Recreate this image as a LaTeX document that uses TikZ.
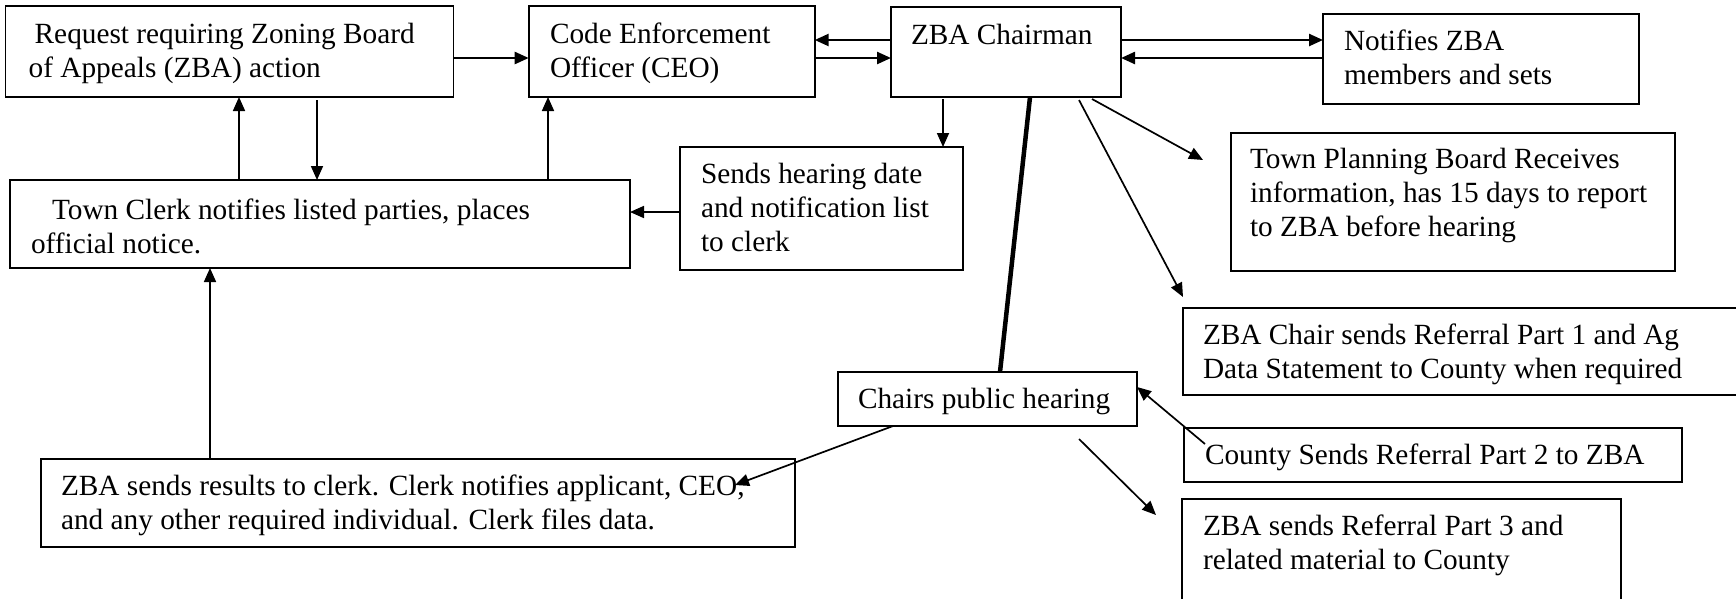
\documentclass[tikz,border=0pt]{standalone}
\usepackage{fontspec}
\setmainfont{Liberation Serif}
\usetikzlibrary{arrows.meta,calc}
\newcommand{\mlines}[1]{\begin{tabular}[t]{@{}l@{}}#1\end{tabular}}
\begin{document}
\begin{tikzpicture}[x=1pt,y=-1pt,
  box/.style={draw,line width=1.7pt,rectangle,anchor=north west,inner sep=0pt,outer sep=0pt},
  txt/.style={anchor=base west,inner sep=0pt,outer sep=0pt,font=\fontsize{29.3}{34}\selectfont},
  arr/.style={line width=1.7pt,-{Triangle[length=14pt,width=12pt]}},
  harr/.style={arr,line width=2.4pt},
  heavy/.style={line width=4.5pt}]
\useasboundingbox (0,0) rectangle (1736,598);
\clip (0,0) rectangle (1736,598);

% boxes
\node[box,minimum width=448pt,minimum height=91pt] (req) at (5.5,6) {};
\node[box,minimum width=286pt,minimum height=91pt] (ceo) at (528.7,6) {};
\node[box,minimum width=230pt,minimum height=90pt] (zba) at (891,7) {};
\node[box,minimum width=316pt,minimum height=90pt] (notif) at (1323,14) {};
\node[box,minimum width=283pt,minimum height=123pt] (sends) at (680,147) {};
\node[box,minimum width=620pt,minimum height=88pt] (tc) at (10,180) {};
\node[box,minimum width=444pt,minimum height=138pt] (tp) at (1231,133) {};
\node[box,minimum width=556pt,minimum height=87pt] (refone) at (1183,308) {};
\node[box,minimum width=299pt,minimum height=54pt] (chairs) at (838,372) {};
\node[box,minimum width=498pt,minimum height=54pt] (county) at (1184,428) {};
\node[box,minimum width=439pt,minimum height=102pt] (refthree) at (1182,499) {};
\node[box,minimum width=754pt,minimum height=88pt] (res) at (41,459) {};

% texts
\node[txt] (treq) at (28.7,43) {\mlines{\hspace*{6pt}Request requiring Zoning Board\\of Appeals (ZBA) action}};
\node[txt] (tceo) at (550,43) {\mlines{Code Enforcement\\Officer (CEO)}};
\node[txt] (tzba) at (911,44) {ZBA Chairman};
\node[txt] (tnot) at (1344,50) {\mlines{Notifies ZBA\\members and sets}};
\node[txt] (tsen) at (701,183) {\mlines{Sends hearing date\\and notification list\\to clerk}};
\node[txt] (ttc) at (31,219) {\mlines{\hspace*{21pt}Town Clerk notifies listed parties, places\\official notice.}};
\node[txt] (ttp) at (1250,168) {\mlines{Town Planning Board Receives\\information, has 15 days to report\\to ZBA before hearing}};
\node[txt] (trone) at (1203,344) {\mlines{ZBA Chair sends Referral Part 1 and Ag\\Data Statement to County when required}};
\node[txt] (tch) at (858,408) {Chairs public hearing};
\node[txt] (tco) at (1205,464) {County Sends Referral Part 2 to ZBA};
\node[txt] (trthree) at (1203,535) {\mlines{ZBA sends Referral Part 3 and\\related material to County}};
\node[txt] (tres) at (61,495) {\mlines{ZBA sends results to clerk. Clerk notifies applicant, CEO,\\and any other required individual. Clerk files data.}};

% free ends
\coordinate (tpend) at (1203,160);
\coordinate (roneend) at (1183,297);
\coordinate (rthreeend) at (1156,515);

% connectors
\draw[harr] ([yshift=-52pt]req.north east) -- ([yshift=-52pt]ceo.north west);
\draw[harr] ([yshift=-33pt]zba.north west) -- ([yshift=-34pt]ceo.north east);
\draw[harr] ([yshift=-52pt]ceo.north east) -- ([yshift=-51pt]zba.north west);
\draw[harr] ([yshift=-33pt]zba.north east) -- ([yshift=-26pt]notif.north west);
\draw[harr] ([yshift=-44pt]notif.north west) -- ([yshift=-51pt]zba.north east);
\draw[arr] ([xshift=229pt]tc.north west) -- ([xshift=233.5pt]req.south west);
\draw[arr] ([xshift=311.5pt,yshift=-3pt]req.south west) -- ([xshift=307pt]tc.north west);
\draw[arr] ([xshift=538pt]tc.north west) -- ([xshift=19.3pt]ceo.south west);
\draw[arr] ([xshift=52pt,yshift=-2pt]zba.south west) -- ([xshift=263pt]sends.north west);
\draw[arr] ([yshift=-65pt]sends.north west) -- ([yshift=-32pt]tc.north east);
\draw[arr] ([xshift=-29pt,yshift=-2pt]zba.south east) -- (tpend);
\draw[arr] ([xshift=-42pt,yshift=-3pt]zba.south east) -- (roneend);
\draw[heavy] ([xshift=-91pt]zba.south east) -- ([xshift=162pt]chairs.north west);
\draw[arr] ([xshift=21pt,yshift=-16pt]county.north west) -- ([yshift=-15pt]chairs.north east);
\draw[arr] ([xshift=241pt,yshift=-13pt]chairs.south west) -- (rthreeend);
\draw[arr] ([xshift=55pt]chairs.south west) -- ([xshift=694pt,yshift=-26pt]res.north west);
\draw[arr] ([xshift=169pt]res.north west) -- ([xshift=200pt]tc.south west);
\end{tikzpicture}
\end{document}
